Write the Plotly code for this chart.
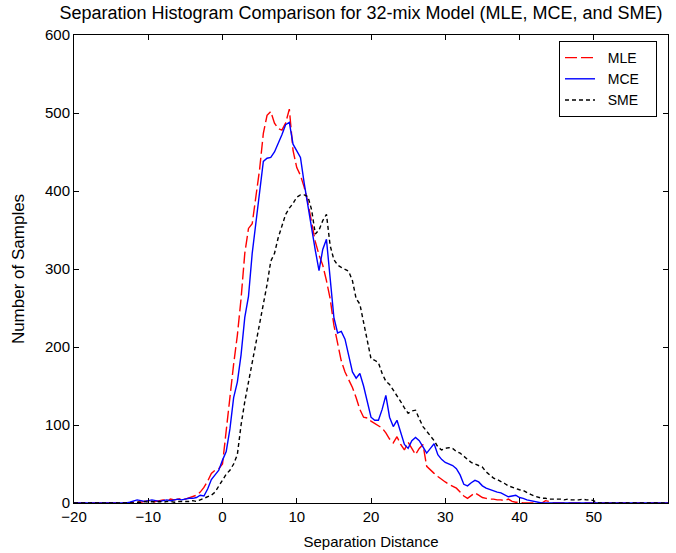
import plotly.graph_objects as go

# Bin centres: -20 .. 60 in steps of 0.5
x_bins = [-20 + 0.5 * i for i in range(161)]

mle = [
    0, 0, 0, 0, 0, 0, 0, 0, 0, 0,
    0, 0, 0, 0, 0, 0, 1, 2, 1, 2,
    3, 1, 2, 3, 4, 3, 5, 4, 5, 6,
    5, 7, 8, 10, 14, 20, 28, 38, 42, 44,
    50, 95, 140, 178, 215, 262, 320, 352, 358, 395,
    428, 474, 497, 502, 487, 480, 478, 487, 505, 452,
    430, 420, 405, 385, 359, 335, 318, 305, 285, 262,
    228, 205, 182, 168, 158, 148, 135, 120, 110, 109,
    105, 102, 100, 96, 90, 82, 77, 85, 75, 68,
    78, 70, 62, 70, 75, 47, 42, 38, 34, 30,
    27, 24, 21, 19, 14, 9, 6, 10, 13, 10,
    7, 6, 5, 5, 4, 4, 3, 5, 2, 1,
    1, 0, 0, 0, 0, 0, 0, 3, 2, 0,
    0, 0, 0, 0, 0, 0, 0, 0, 0, 0,
    0, 0, 0, 0, 0, 0, 0, 0, 0, 0,
    0, 0, 0, 0, 0, 0, 0, 0, 0, 0,
    0,
]

mce = [
    0, 0, 0, 0, 0, 0, 0, 0, 0, 0,
    0, 0, 0, 0, 0, 1, 3, 4, 3, 2,
    3, 4, 3, 2, 3, 4, 3, 4, 5, 4,
    5, 6, 6, 7, 10, 9, 18, 30, 36, 42,
    55, 66, 95, 135, 155, 190, 238, 265, 320, 358,
    400, 438, 442, 443, 450, 460, 472, 485, 488, 460,
    452, 443, 410, 380, 350, 324, 298, 325, 338, 290,
    238, 218, 220, 210, 190, 168, 160, 166, 150, 130,
    110, 106, 106, 120, 138, 110, 98, 106, 90, 75,
    70, 80, 84, 80, 72, 64, 70, 76, 62, 56,
    52, 50, 48, 44, 36, 24, 22, 26, 29, 27,
    22, 19, 17, 15, 14, 13, 10, 8, 9, 10,
    7, 6, 4, 3, 2, 1, 0, 0, 0, 0,
    0, 0, 0, 0, 0, 0, 0, 0, 0, 0,
    0, 0, 0, 0, 0, 0, 0, 0, 0, 0,
    0, 0, 0, 0, 0, 0, 0, 0, 0, 0,
    0,
]

sme = [
    0, 0, 0, 0, 0, 0, 0, 0, 0, 0,
    0, 0, 0, 0, 0, 0, 0, 1, 1, 2,
    1, 2, 1, 2, 1, 2, 2, 1, 2, 2,
    2, 2, 3, 2, 4, 6, 8, 10, 14, 22,
    30, 37, 42, 50, 62, 100, 130, 155, 175, 205,
    228, 250, 280, 310, 320, 340, 355, 370, 378, 384,
    392, 395, 395, 393, 376, 345, 350, 362, 370, 330,
    312, 305, 302, 300, 297, 285, 262, 255, 230, 205,
    185, 183, 180, 166, 156, 152, 145, 138, 130, 122,
    115, 118, 119, 108, 98, 92, 86, 80, 72, 68,
    70, 71, 70, 66, 64, 60, 55, 52, 50, 48,
    46, 40, 36, 32, 30, 28, 25, 22, 20, 18,
    17, 16, 13, 11, 9, 7, 6, 6, 5, 5,
    5, 5, 4, 5, 4, 4, 4, 5, 4, 4,
    3, 0, 0, 0, 0, 0, 0, 0, 0, 0,
    0, 0, 0, 0, 0, 0, 0, 0, 0, 0,
    0,
]

series_names = ["MLE", "MCE", "SME"]
x_ticks = [-20, -10, 0, 10, 20, 30, 40, 50, 60]
y_ticks = [0, 100, 200, 300, 400, 500, 600]

FONT = "Liberation Sans, Arial, sans-serif"
W, H = 676, 553
NB = "\u00a0"

def lg(name):
    # pad legend labels so the legend box matches the reference width
    return NB * 2 + name + NB * 3

fig = go.Figure()
fig.add_trace(go.Scatter(x=x_bins, y=mle, mode="lines", name=lg(series_names[0]),
                         line=dict(color="#ff0000", width=1.4, dash="12px,4px")))
fig.add_trace(go.Scatter(x=x_bins, y=mce, mode="lines", name=lg(series_names[1]),
                         line=dict(color="#0000ff", width=1.4)))
fig.add_trace(go.Scatter(x=x_bins, y=sme, mode="lines", name=lg(series_names[2]),
                         line=dict(color="#000000", width=1.4, dash="4px,3px")))

fig.update_layout(
    width=W, height=H, autosize=False,
    margin=dict(l=74, r=8, t=35, b=50),
    paper_bgcolor="white", plot_bgcolor="white",
    font=dict(family=FONT, size=15, color="black"),
    title=dict(text="Separation Histogram Comparison for 32-mix Model (MLE, MCE, and SME)",
               x=361 / W, xref="container", xanchor="center",
               y=1 - 12.5 / H, yref="container", yanchor="middle",
               font=dict(family=FONT, size=18, color="black")),
    showlegend=True,
    legend=dict(x=(657 - 74) / 594, y=(503 - 41) / 468, xanchor="right", yanchor="top",
                bordercolor="black", borderwidth=1, bgcolor="white",
                itemwidth=30, tracegroupgap=0,
                font=dict(family=FONT, size=14, color="black")),
)
fig.update_xaxes(range=[-20, 60], tickvals=x_ticks, ticks="inside", ticklen=5,
                 showline=True, linecolor="black", linewidth=1, mirror="ticks",
                 showgrid=False, zeroline=False, tickcolor="black",
                 tickfont=dict(size=15), automargin=False,
                 title=dict(text="Separation Distance", standoff=12, font=dict(size=15)))
fig.update_yaxes(range=[0, 600], tickvals=y_ticks, ticks="inside", ticklen=5,
                 showline=True, linecolor="black", linewidth=1, mirror="ticks",
                 showgrid=False, zeroline=False, tickcolor="black",
                 tickfont=dict(size=15), automargin=False,
                 title=dict(text="Number of Samples", standoff=16, font=dict(size=17)))

fig.write_html("out.html", config={"displayModeBar": False},
               post_script="document.body.style.margin='0px';")
